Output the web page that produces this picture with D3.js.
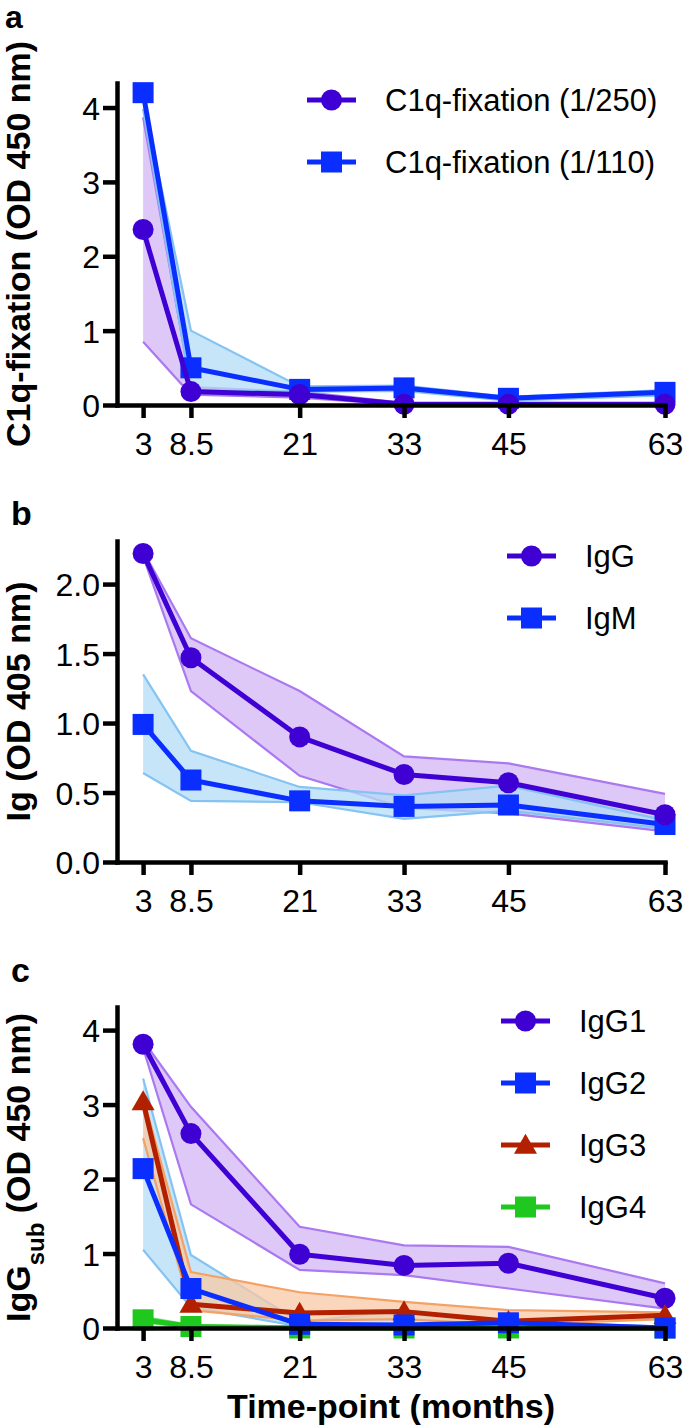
<!DOCTYPE html>
<html><head><meta charset="utf-8">
<script src="https://cdn.jsdelivr.net/npm/d3@7"></script>
<style>
html,body{margin:0;padding:0;background:#fff;}
svg{display:block;font-family:"Liberation Sans",Arial,Helvetica,sans-serif;}
</style></head>
<body>
<svg id="chart" width="685" height="1426"></svg>
<script>
// ---------- data ----------
const months = [3, 8.5, 21, 33, 45, 63];
const tickLabels = ["3", "8.5", "21", "33", "45", "63"];

// panel a
const c1q250   = [2.36, 0.18, 0.14, 0.01, 0.01, 0.01];
const c1q250Hi = [3.87, 0.24, 0.18, 0.03, 0.02, 0.02];
const c1q250Lo = [0.85, 0.14, 0.10, 0.00, 0.00, 0.00];
const c1q110   = [4.20, 0.50, 0.21, 0.23, 0.09, 0.17];
const c1q110Hi = [4.12, 1.00, 0.25, 0.26, 0.11, 0.20];
const c1q110Lo = [3.98, 0.20, 0.18, 0.19, 0.06, 0.13];
const yTicksA = [0, 1, 2, 3, 4];

// panel b
const igG   = [2.22, 1.47, 0.90, 0.63, 0.57, 0.34];
const igGHi = [2.24, 1.61, 1.23, 0.76, 0.71, 0.49];
const igGLo = [2.20, 1.23, 0.62, 0.39, 0.35, 0.22];
const igM   = [0.99, 0.59, 0.44, 0.40, 0.41, 0.27];
const igMHi = [1.35, 0.80, 0.54, 0.48, 0.55, 0.30];
const igMLo = [0.64, 0.44, 0.43, 0.31, 0.37, 0.24];
const yTicksB = [0, 0.5, 1.0, 1.5, 2.0];

// panel c
const igG1   = [3.81, 2.61, 0.99, 0.84, 0.87, 0.40];
const igG1Hi = [3.86, 2.97, 1.36, 1.11, 1.09, 0.60];
const igG1Lo = [3.76, 1.66, 0.78, 0.71, 0.53, 0.26];
const igG2   = [2.14, 0.53, 0.05, 0.04, 0.07, 0.00];
const igG2Hi = [3.35, 0.98, 0.08, 0.24, 0.09, 0.02];
const igG2Lo = [1.05, 0.28, 0.02, 0.01, 0.03, 0.00];
const igG3   = [3.04, 0.32, 0.20, 0.22, 0.09, 0.17];
const igG3Hi = [3.10, 0.75, 0.48, 0.35, 0.24, 0.21];
const igG3Lo = [2.55, 0.24, 0.10, 0.12, 0.04, 0.12];
const igG4   = [0.11, 0.02, 0.00, 0.00, 0.00, 0.00];
const igG4Hi = [0.15, 0.04, 0.02, 0.02, 0.02, 0.02];
const igG4Lo = [0.08, 0.00, 0.00, 0.00, 0.00, 0.00];
const yTicksC = [0, 1, 2, 3, 4];

// ---------- styles ----------
const PURPLE = {line:"#3f00d4", fill:"#d3b6f6", edge:"#aa78f0"};
const BLUE   = {line:"#0a2eff", fill:"#b4dcf5", edge:"#84c3f2"};
const RED    = {line:"#b32000", fill:"#f8caa6", edge:"#f3a266"};
const GREEN  = {line:"#1ec81e", fill:"#a6eea6", edge:"#6fdc6f"};

const svg = d3.select("#chart");
const X0 = 117, X1 = 665;
const x = d3.scaleLinear().domain([0, 63]).range([X0, X1]);

function marker(g, shape, cx, cy, color) {
  if (shape === "circle") {
    g.append("circle").attr("cx", cx).attr("cy", cy).attr("r", 10.5).attr("fill", color);
  } else if (shape === "square") {
    g.append("rect").attr("x", cx - 10.5).attr("y", cy - 10.5).attr("width", 21).attr("height", 21).attr("fill", color);
  } else {
    g.append("path").attr("transform", `translate(${cx},${cy + 2})`)
      .attr("d", d3.symbol(d3.symbolTriangle).size(230)()).attr("fill", color);
  }
}

function panel(cfg) {
  const g = svg.append("g");
  const y = d3.scaleLinear().domain([0, cfg.ymax]).range([cfg.bottom, cfg.top]);

  // bands
  cfg.series.forEach(s => {
    const pts = months.map((m, i) => ({m, hi: s.hi[i], lo: s.lo[i]}));
    const area = d3.area().x(d => x(d.m)).y0(d => y(d.lo)).y1(d => y(d.hi));
    g.append("path").attr("d", area(pts)).attr("fill", s.col.fill).attr("fill-opacity", 0.75);
    [ "hi", "lo" ].forEach(k => {
      g.append("path").attr("d", d3.line().x(d => x(d.m)).y(d => y(d[k]))(pts))
        .attr("fill", "none").attr("stroke", s.col.edge).attr("stroke-width", 2.2);
    });
  });

  // lines + markers (draw order)
  cfg.drawOrder.forEach(idx => {
    const s = cfg.series[idx];
    const pts = months.map((m, i) => ({m, v: s.v[i]}));
    g.append("path").attr("d", d3.line().x(d => x(d.m)).y(d => y(d.v))(pts))
      .attr("fill", "none").attr("stroke", s.col.line).attr("stroke-width", 5).attr("stroke-linejoin", "round");
    pts.forEach(p => marker(g, s.shape, x(p.m), y(p.v), s.col.line));
  });

  // axes
  const ya = g.append("g").attr("transform", `translate(${X0},0)`)
    .call(d3.axisLeft(y).tickValues(cfg.yticks).tickFormat(cfg.yfmt).tickSize(14).tickSizeOuter(0).tickPadding(3));
  const xa = g.append("g").attr("transform", `translate(0,${cfg.bottom})`)
    .call(d3.axisBottom(x).tickValues(months).tickFormat((d, i) => tickLabels[i]).tickSize(13).tickSizeOuter(0).tickPadding(14));
  [ya, xa].forEach(a => {
    a.selectAll("path.domain").attr("stroke", "#000").attr("stroke-width", 4.5).attr("stroke-linecap", "square");
    a.selectAll(".tick line").attr("stroke", "#000").attr("stroke-width", 4.5);
    a.selectAll(".tick text").attr("fill", "#000").attr("font-size", 32)
      .attr("font-family", '"Liberation Sans",Arial,Helvetica,sans-serif');
  });
  ya.selectAll(".tick text").attr("dy", "0.36em");

  // y title
  const t = g.append("text")
    .attr("transform", `translate(30,${(cfg.top + cfg.bottom) / 2}) rotate(-90)`)
    .attr("text-anchor", "middle").attr("font-weight", "bold").attr("font-size", 34).attr("fill", "#000");
  cfg.ytitle.forEach(p => {
    const ts = t.append("tspan").text(p.t);
    if (p.sub) ts.attr("font-size", 24).attr("baseline-shift", "sub");
  });

  // panel letter
  g.append("text").attr("x", cfg.letterX).attr("y", cfg.letterY).attr("font-weight", "bold")
    .attr("font-size", cfg.letterSize).attr("fill", "#000").text(cfg.letter);

  // legend
  cfg.legendOrder.forEach((idx, k) => {
    const s = cfg.series[idx];
    const ly = cfg.legY[k];
    g.append("line").attr("x1", cfg.legX).attr("x2", cfg.legX + 49).attr("y1", ly).attr("y2", ly)
      .attr("stroke", s.col.line).attr("stroke-width", 5);
    marker(g, s.shape, cfg.legX + 24.5, ly, s.col.line);
    g.append("text").attr("x", cfg.legX + 78).attr("y", ly + 11).attr("font-size", 31).attr("fill", "#000").text(s.name);
  });
}

panel({
  letter: "a", letterX: 5, letterY: 28, letterSize: 32,
  top: 83, bottom: 405, ymax: 4.33, yticks: yTicksA, yfmt: d3.format("d"),
  ytitle: [{t: "C1q-fixation (OD 450 nm)"}],
  series: [
    {name: "C1q-fixation (1/250)", v: c1q250, hi: c1q250Hi, lo: c1q250Lo, col: PURPLE, shape: "circle"},
    {name: "C1q-fixation (1/110)", v: c1q110, hi: c1q110Hi, lo: c1q110Lo, col: BLUE, shape: "square"}
  ],
  drawOrder: [1, 0], legendOrder: [0, 1],
  legX: 307, legY: [100, 162]
});

panel({
  letter: "b", letterX: 11, letterY: 525, letterSize: 34,
  top: 541, bottom: 862, ymax: 2.31, yticks: yTicksB, yfmt: d3.format(".1f"),
  ytitle: [{t: "Ig (OD 405 nm)"}],
  series: [
    {name: "IgG", v: igG, hi: igGHi, lo: igGLo, col: PURPLE, shape: "circle"},
    {name: "IgM", v: igM, hi: igMHi, lo: igMLo, col: BLUE, shape: "square"}
  ],
  drawOrder: [1, 0], legendOrder: [0, 1],
  legX: 507, legY: [556, 618]
});

panel({
  letter: "c", letterX: 11, letterY: 982, letterSize: 34,
  top: 1007, bottom: 1328, ymax: 4.31, yticks: yTicksC, yfmt: d3.format("d"),
  ytitle: [{t: "IgG"}, {t: "sub", sub: true}, {t: " (OD 450 nm)"}],
  series: [
    {name: "IgG1", v: igG1, hi: igG1Hi, lo: igG1Lo, col: PURPLE, shape: "circle"},
    {name: "IgG2", v: igG2, hi: igG2Hi, lo: igG2Lo, col: BLUE, shape: "square"},
    {name: "IgG3", v: igG3, hi: igG3Hi, lo: igG3Lo, col: RED, shape: "triangle"},
    {name: "IgG4", v: igG4, hi: igG4Hi, lo: igG4Lo, col: GREEN, shape: "square"}
  ],
  drawOrder: [0, 3, 2, 1], legendOrder: [0, 1, 2, 3],
  legX: 501, legY: [1021, 1083, 1145, 1207]
});

svg.append("text").attr("x", (X0 + X1) / 2).attr("y", 1418).attr("text-anchor", "middle")
  .attr("font-weight", "bold").attr("font-size", 34).attr("fill", "#000").text("Time-point (months)");
</script>
</body></html>
